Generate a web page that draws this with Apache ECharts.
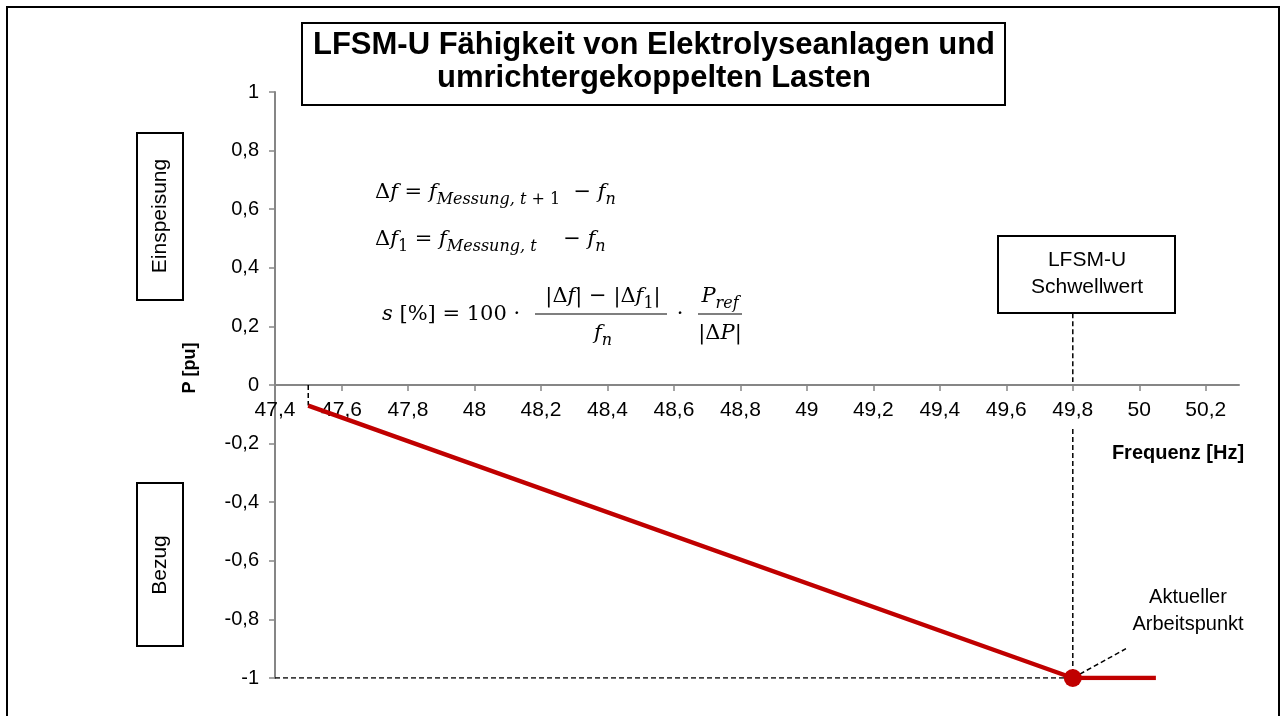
<!DOCTYPE html>
<html>
<head>
<meta charset="utf-8">
<title>LFSM-U Fähigkeit</title>
<script src="https://cdn.jsdelivr.net/npm/echarts@6/dist/echarts.min.js"></script>
<style>
  html, body { margin: 0; padding: 0; background: #fff; }
  #chart { width: 1287px; height: 716px; }
</style>
</head>
<body>
<div id="chart"></div>
<script>
// Kennlinie (Frequenz in Hz, Leistung in pu)
const lineFreq = [47.5, 49.8, 50.05];
const linePower = [-0.07, -1, -1];
// Arbeitspunkt und Schwellwert
const opFreq = 49.8;
const opPower = -1;
// Hilfslinien (gestrichelt)
const startDrop = [[47.5, 0], [47.5, -0.07]];
const baseLine = [[47.4, -1], [49.8, -1]];
const thresholdUpper = [[49.8, 0.245], [49.8, 0.01]];
const thresholdLower = [[49.8, -0.15], [49.8, -1]];
const leader = [[49.8, -1], [49.96, -0.9]];
// Achsenbeschriftungen
const xTicks = [47.4, 47.6, 47.8, 48, 48.2, 48.4, 48.6, 48.8, 49, 49.2, 49.4, 49.6, 49.8, 50, 50.2];
const yTicks = [-1, -0.8, -0.6, -0.4, -0.2, 0, 0.2, 0.4, 0.6, 0.8, 1];

const RED = '#C00000';
const AXIS = '#868686';
const SANS = 'Liberation Sans, Arial, sans-serif';
const SERIF = 'DejaVu Serif, serif';
const GRID = { left: 275, right: 48, top: 92, bottom: 38 };

const fmt = v => String(+(+v).toFixed(1)).replace('.', ',');

const dashed = (data) => ({
  type: 'line',
  data: data,
  symbol: 'none',
  silent: true,
  z: 2,
  lineStyle: { color: '#000', width: 1.5, type: [5, 3] }
});

// Formelsatz
const rich = {
  r: { fontFamily: SERIF, fontSize: 21 },
  i: { fontFamily: SERIF, fontStyle: 'italic', fontSize: 21 },
  s: { fontFamily: SERIF, fontStyle: 'italic', fontSize: 16, padding: [13, 0, 0, 0] },
  sr: { fontFamily: SERIF, fontSize: 16, padding: [13, 0, 0, 0] }
};
const formula = (x, y, text, align) => ({
  type: 'text',
  x: x, y: y,
  style: { text: text, rich: rich, align: align || 'left', verticalAlign: 'middle', fill: '#000' }
});
const box = (x, y, w, h) => ({
  type: 'rect',
  shape: { x: x, y: y, width: w, height: h },
  style: { fill: '#fff', stroke: '#000', lineWidth: 2 }
});
const label = (x, y, text, size, opts) => Object.assign({
  type: 'text',
  x: x, y: y,
  style: Object.assign({
    text: text, font: size + 'px ' + SANS, fill: '#000',
    align: 'center', verticalAlign: 'middle'
  }, (opts && opts.style) || {})
}, (opts && opts.el) || {});

const chart = echarts.init(document.getElementById('chart'));
chart.setOption({
  animation: false,
  backgroundColor: '#fff',
  grid: GRID,
  xAxis: {
    type: 'value',
    min: 47.4,
    max: 50.3,
    interval: 0.2,
    offset: 0,
    axisLine: { onZero: false, lineStyle: { color: AXIS, width: 2 } },
    axisTick: { show: true, length: 6, customValues: xTicks, lineStyle: { color: AXIS, width: 1.5 } },
    axisLabel: {
      customValues: xTicks, margin: 15, color: '#000',
      fontFamily: SANS, fontSize: 21, formatter: fmt
    },
    splitLine: { show: false }
  },
  yAxis: {
    type: 'value',
    min: -1,
    max: 1,
    interval: 0.2,
    axisLine: { show: true, onZero: false, lineStyle: { color: AXIS, width: 2 } },
    axisTick: { show: true, length: 6, customValues: yTicks, lineStyle: { color: AXIS, width: 1.5 } },
    axisLabel: {
      customValues: yTicks, margin: 16, color: '#000',
      fontFamily: SANS, fontSize: 20, formatter: fmt
    },
    splitLine: { show: false }
  },
  series: [
    dashed(startDrop),
    dashed(baseLine),
    dashed(thresholdUpper),
    dashed(thresholdLower),
    dashed(leader),
    {
      type: 'line',
      data: lineFreq.map((f, k) => [f, linePower[k]]),
      symbol: 'none',
      z: 3,
      lineStyle: { color: RED, width: 4.5 }
    },
    {
      type: 'scatter',
      data: [[opFreq, opPower]],
      symbolSize: 18,
      z: 4,
      itemStyle: { color: RED, opacity: 1 }
    }
  ],
  graphic: [
    // Rahmen
    { type: 'rect', shape: { x: 7, y: 7, width: 1272, height: 730 }, style: { fill: 'none', stroke: '#000', lineWidth: 2 }, z: -10 },
    // Titel
    box(302, 23, 703, 82),
    label(654, 62, 'LFSM-U Fähigkeit von Elektrolyseanlagen und\numrichtergekoppelten Lasten', 31,
      { style: { font: 'bold 31px ' + SANS, lineHeight: 33 } }),
    // Seitliche Kästen
    box(137, 133, 46, 167),
    label(160, 216, 'Einspeisung', 21, { el: { rotation: Math.PI / 2 } }),
    box(137, 483, 46, 163),
    label(160, 565, 'Bezug', 21, { el: { rotation: Math.PI / 2 } }),
    // Achsentitel
    label(190, 368, 'P [pu]', 18, { el: { rotation: Math.PI / 2 }, style: { font: 'bold 18px ' + SANS } }),
    label(1178, 453, 'Frequenz [Hz]', 20, { style: { font: 'bold 20px ' + SANS } }),
    // Schwellwert
    box(998, 236, 177, 77),
    label(1087, 274, 'LFSM-U\nSchwellwert', 21, { style: { lineHeight: 27 } }),
    // Arbeitspunkt
    label(1188, 611, 'Aktueller\nArbeitspunkt', 20, { style: { lineHeight: 27 } }),
    // Formeln
    formula(375, 193, '{r|Δ}{i|f}{r| = }{i|f}{s|Messung, t}{sr| + 1}{r|  − }{i|f}{s|n}'),
    formula(375, 240, '{r|Δ}{i|f}{sr|1}{r| = }{i|f}{s|Messung, t}{r|    − }{i|f}{s|n}'),
    formula(382, 315, '{i|s}{r| [%] = 100 ·}'),
    formula(603, 297, '{r||Δ}{i|f}{r|| − |Δ}{i|f}{sr|1}{r||}', 'center'),
    { type: 'line', shape: { x1: 535, y1: 314, x2: 667, y2: 314 }, style: { stroke: '#000', lineWidth: 1.2 } },
    formula(603, 334, '{i|f}{s|n}', 'center'),
    formula(680, 315, '{r|·}', 'center'),
    formula(720, 297, '{i|P}{s|ref}', 'center'),
    { type: 'line', shape: { x1: 698, y1: 314, x2: 742, y2: 314 }, style: { stroke: '#000', lineWidth: 1.2 } },
    formula(720, 334, '{r||Δ}{i|P}{r||}', 'center')
  ]
});

// x-Achse auf P = 0 verschieben
const yZero = chart.convertToPixel({ yAxisIndex: 0 }, 0);
chart.setOption({ xAxis: { offset: yZero - (716 - GRID.bottom) } });
</script>
</body>
</html>
